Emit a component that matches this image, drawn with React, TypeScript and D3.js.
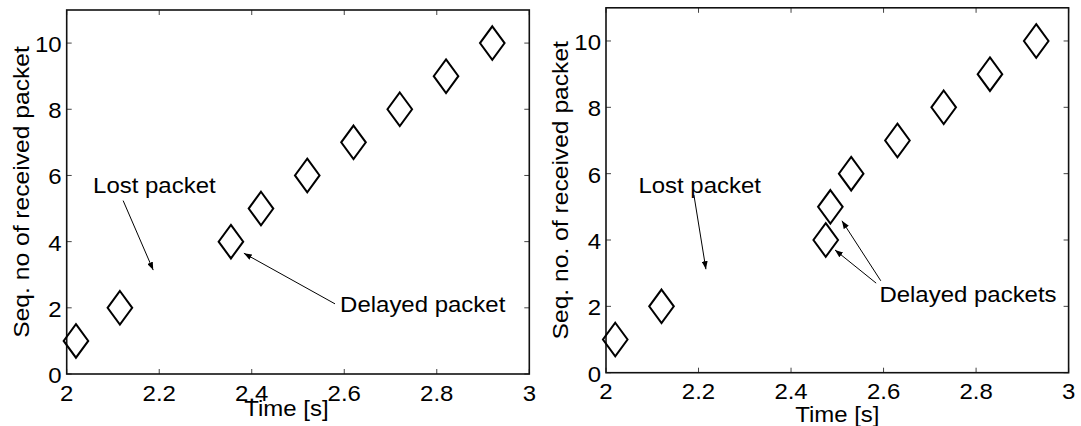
import React from 'react';
import * as d3 from 'd3';

// sequence numbers received (packet 3 lost)
const seqNo = [1, 2, 4, 5, 6, 7, 8, 9, 10];
const timeLeft = [2.02, 2.115, 2.355, 2.42, 2.52, 2.62, 2.72, 2.82, 2.92];
const timeRight = [2.02, 2.12, 2.475, 2.485, 2.53, 2.63, 2.73, 2.83, 2.93];
const xTicks = [2, 2.2, 2.4, 2.6, 2.8, 3];
const yTicks = [0, 2, 4, 6, 8, 10];
const xDomain = [2, 3];
const yDomain = [0, 11];

// annotations, in data units
const notesLeft = [
    { text: 'Lost packet', x: 2.057, y: 5.46 },
    { text: 'Delayed packet', x: 2.591, y: 1.86 },
];
const arrowsLeft = [
    { x1: 2.122, y1: 5.24, x2: 2.187, y2: 3.14 },
    { x1: 2.58, y1: 2.12, x2: 2.383, y2: 3.65 },
];
const notesRight = [
    { text: 'Lost packet', x: 2.07, y: 5.43 },
    { text: 'Delayed packets', x: 2.591, y: 2.14 },
];
const arrowsRight = [
    { x1: 2.19, y1: 5.36, x2: 2.216, y2: 3.12 },
    { x1: 2.584, y1: 2.7, x2: 2.495, y2: 3.7 },
    { x1: 2.594, y1: 2.77, x2: 2.51, y2: 4.58 },
];

const FONT = 'Liberation Sans, Arial, Helvetica, sans-serif';
const SX = 1.09; // text in the reference is a bit wide

function Panel({ id, left, top, right, bottom, times, notes, arrows, ylabel, xlabelFrac, xlabelY }) {
    const x = d3.scaleLinear().domain(xDomain).range([left, right]);
    const y = d3.scaleLinear().domain(yDomain).range([bottom, top]);
    const hw = 12.3, hh = 16.8;
    const diamond = `M0,${-hh}L${hw},0L0,${hh}L${-hw},0Z`;
    const tickLen = 5;
    const midY = (top + bottom) / 2;
    return (
        <g>
            <defs>
                <marker id={'ah' + id} markerUnits="userSpaceOnUse" markerWidth="9" markerHeight="6"
                    refX="8" refY="3" orient="auto">
                    <path d="M0,0L8,3L0,6Z" fill="#000" />
                </marker>
            </defs>
            {/* ticks inside the box, all four sides */}
            {xTicks.map(t => (
                <g key={'xt' + t}>
                    <line x1={x(t)} x2={x(t)} y1={bottom} y2={bottom - tickLen} stroke="#444" />
                    <line x1={x(t)} x2={x(t)} y1={top} y2={top + tickLen} stroke="#444" />
                    <text transform={`translate(${x(t)},${bottom + 26.5}) scale(${SX},1)`}
                        textAnchor="middle" fontSize="22" fontFamily={FONT}>{String(t)}</text>
                </g>
            ))}
            {yTicks.map(t => (
                <g key={'yt' + t}>
                    <line x1={left} x2={left + tickLen} y1={y(t)} y2={y(t)} stroke="#444" />
                    <line x1={right} x2={right - tickLen} y1={y(t)} y2={y(t)} stroke="#444" />
                    <text transform={`translate(${left - 5},${y(t) + 9}) scale(${SX},1)`}
                        textAnchor="end" fontSize="22" fontFamily={FONT}>{String(t)}</text>
                </g>
            ))}
            <rect x={left} y={top} width={right - left} height={bottom - top}
                fill="none" stroke="#111" strokeWidth="1.6" />
            {times.map((t, i) => (
                <path key={i} d={diamond} transform={`translate(${x(t)},${y(seqNo[i])})`}
                    fill="none" stroke="#000" strokeWidth="2" />
            ))}
            {arrows.map((a, i) => (
                <line key={'a' + i} x1={x(a.x1)} y1={y(a.y1)} x2={x(a.x2)} y2={y(a.y2)}
                    stroke="#000" strokeWidth="1" markerEnd={`url(#ah${id})`} />
            ))}
            {notes.map((n, i) => (
                <text key={'n' + i} transform={`translate(${x(n.x)},${y(n.y)}) scale(${SX},1)`}
                    fontSize="22" fontFamily={FONT}>{n.text}</text>
            ))}
            <text transform={`translate(${left + (right - left) * xlabelFrac},${xlabelY}) scale(${SX},1)`}
                textAnchor="middle" fontSize="22" fontFamily={FONT}>Time [s]</text>
            <text transform={`translate(${left - 38},${midY}) rotate(-90) scale(1.12,1)`}
                textAnchor="middle" fontSize="22" fontFamily={FONT}>{ylabel}</text>
        </g>
    );
}

export default function App() {
    return (
        <div style={{ position: 'absolute', left: 0, top: 0 }}>
            <svg width={1081} height={426} style={{ display: 'block', background: '#fff' }}>
                <Panel id="l" left={66.7} right={529.3} top={10} bottom={374}
                    times={timeLeft} notes={notesLeft} arrows={arrowsLeft}
                    ylabel="Seq. no of received packet" xlabelFrac={0.475} xlabelY={415.5} />
                <Panel id="r" left={606} right={1068.6} top={7.8} bottom={372.7}
                    times={timeRight} notes={notesRight} arrows={arrowsRight}
                    ylabel="Seq. no. of received packet" xlabelFrac={0.5} xlabelY={422} />
            </svg>
        </div>
    );
}
